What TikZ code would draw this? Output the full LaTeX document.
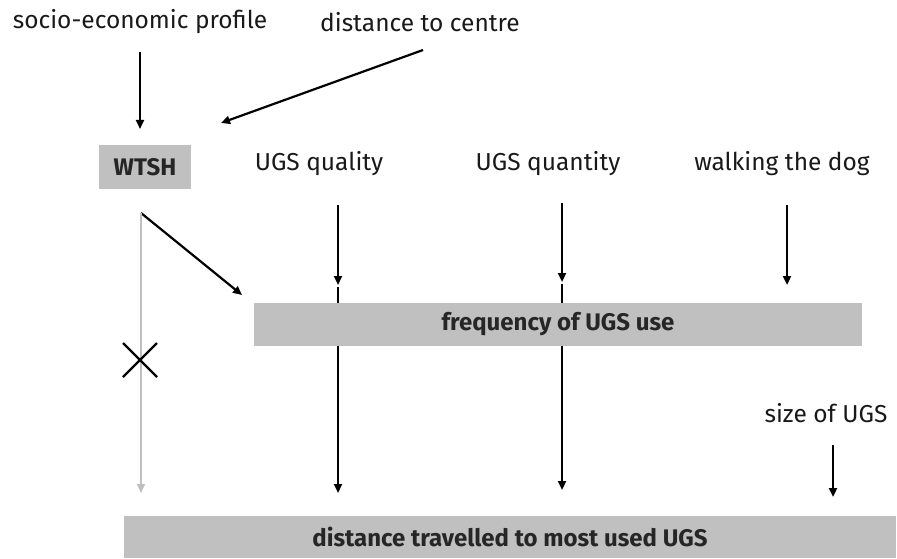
\documentclass[tikz,border=0pt]{standalone}
\usepackage{fontspec}
\setmainfont{Fira Sans}
\usetikzlibrary{arrows.meta,calc}
\definecolor{boxgray}{HTML}{C0C0C0}
\tikzset{
  lbl/.style={font=\fontsize{24.5}{28}\selectfont, inner sep=0pt, text=black!90},
  boxlbl/.style={fill=boxgray, font=\fontsize{24}{28}\selectfont\bfseries, inner sep=0pt, text=black!85},
  arr/.style={line width=2.2pt, -{Triangle[length=9pt,width=8pt]}},
  grayarr/.style={line width=2.2pt, draw=boxgray, -{Triangle[length=9pt,width=8pt]}},
  plain/.style={line width=2.2pt}
}
\begin{document}
\begin{tikzpicture}[x=1pt,y=-1pt]
\useasboundingbox (0,0) rectangle (897,559);
% labels
\node[lbl] (socio) at (140,22) {socio-economic profile};
\node[lbl] (dcentre) at (420,22) {distance to centre};
\node[lbl] (qual) at (319,164) {UGS quality};
\node[lbl] (quant) at (548,164) {UGS quantity};
\node[lbl] (dog) at (782,164) {walking the dog};
\node[lbl] (size) at (826,413) {size of UGS};
% coordinates
\coordinate (s1) at (140,52); \coordinate (s2) at (140,129);
\coordinate (c1) at (423,50); \coordinate (c2) at (221,123);
\coordinate (w0) at (141,213); \coordinate (w1) at (242,295);
\coordinate (w2) at (141,493);
\coordinate (q1) at (338,205); \coordinate (q2) at (338,285);
\coordinate (q3) at (338,287); \coordinate (q4) at (338,493);
\coordinate (n1) at (562,203); \coordinate (n2) at (562,282);
\coordinate (n3) at (562,284); \coordinate (n4) at (562,490);
\coordinate (d1) at (787,205); \coordinate (d2) at (787,285);
\coordinate (z1) at (833,445); \coordinate (z2) at (833,497);
\coordinate (x0) at (140,360);
% through-lines behind box
\draw[arr] (q3) -- (q4);
\draw[arr] (n3) -- (n4);
% boxes
\node[boxlbl, minimum width=92pt, minimum height=44pt] (wtsh) at (145,167) {WTSH};
\node[boxlbl, minimum width=608pt, minimum height=43pt] (freq) at (558,324.5) {frequency of UGS use};
\node[boxlbl, minimum width=772pt, minimum height=42pt] (dist) at (510,537) {distance travelled to most used UGS};
% arrows
\draw[arr] (s1) -- (s2);
\draw[arr] (c1) -- (c2);
\draw[arr] (w0) -- (w1);
\draw[grayarr] (w0) -- (w2);
\draw[arr] (q1) -- (q2);
\draw[arr] (n1) -- (n2);
\draw[arr] (d1) -- (d2);
\draw[arr] (z1) -- (z2);
% cross
\draw[plain] ($(x0)+(-17,-17)$) -- ($(x0)+(17,17)$);
\draw[plain] ($(x0)+(-17,17)$) -- ($(x0)+(17,-17)$);
\end{tikzpicture}
\end{document}
